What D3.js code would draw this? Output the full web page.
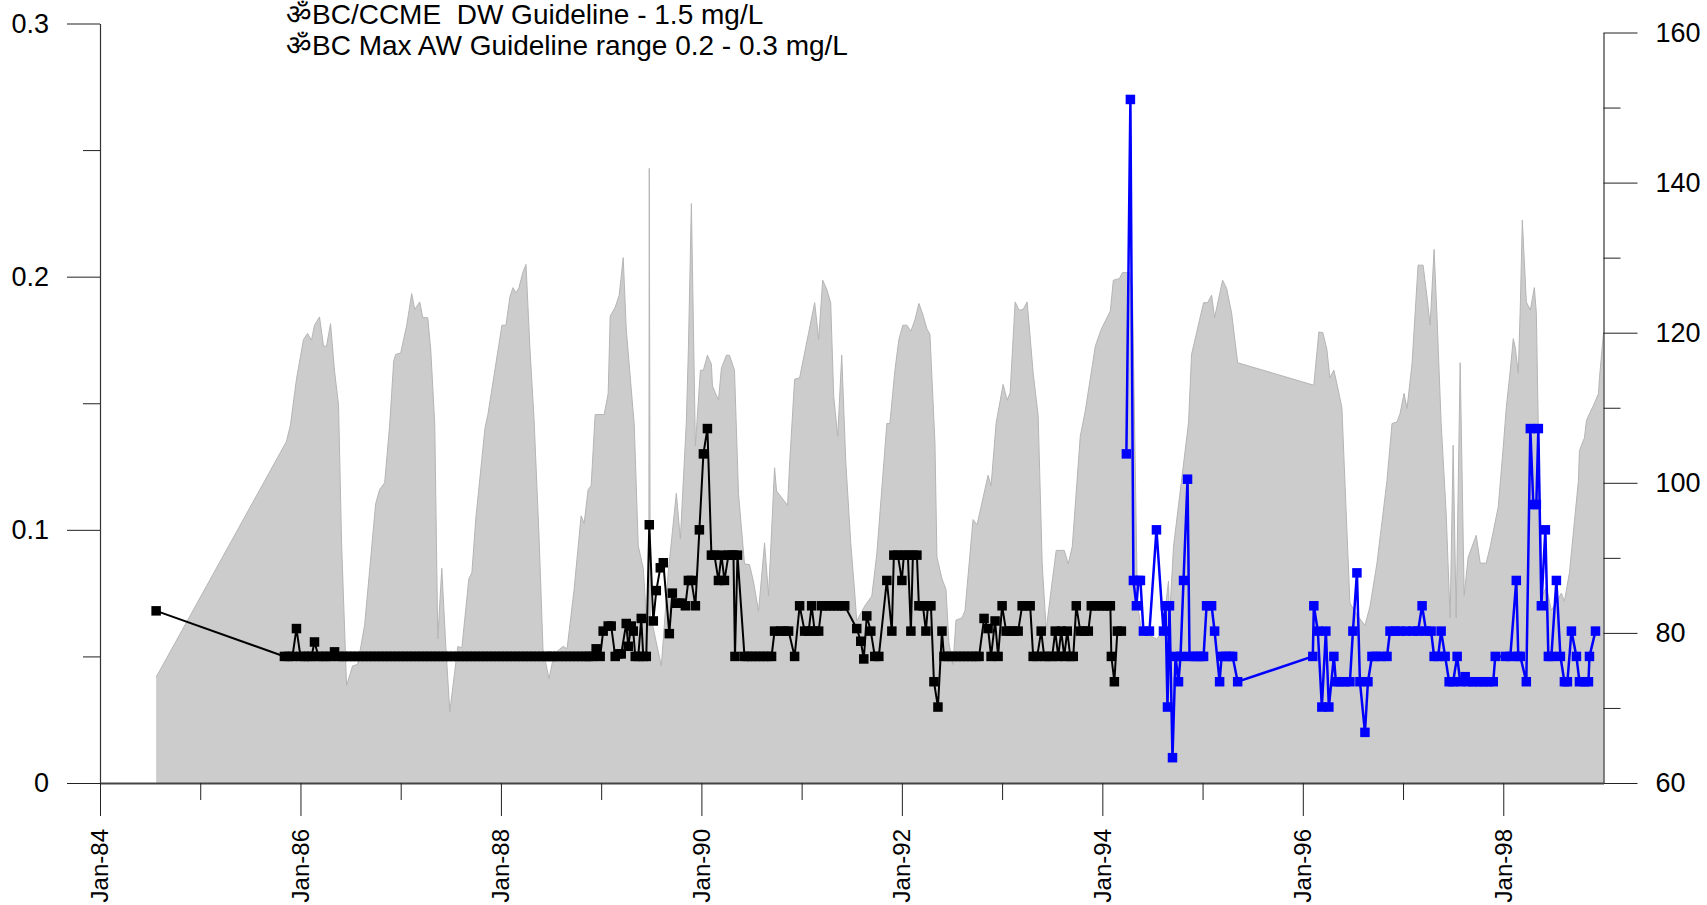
<!DOCTYPE html>
<html><head><meta charset="utf-8">
<script src="https://cdn.jsdelivr.net/npm/d3@7"></script>
<style>
html,body{margin:0;padding:0;background:#fff;}
svg{display:block;font-family:Arial,"Liberation Sans",sans-serif;}
</style></head><body>
<svg id="chart" width="1707" height="905"></svg>
<script>
// ---------- text ----------
const titleLines = ["ॐBC/CCME  DW Guideline - 1.5 mg/L", "ॐBC Max AW Guideline range 0.2 - 0.3 mg/L"];
// ---------- ticks ----------
const xMajorTicks = [1984, 1986, 1988, 1990, 1992, 1994, 1996, 1998];
const xMinorTicks = [1985, 1987, 1989, 1991, 1993, 1995, 1997];
const xTickLabels = ["Jan-84", "Jan-86", "Jan-88", "Jan-90", "Jan-92", "Jan-94", "Jan-96", "Jan-98"];
const leftTicks = [0, 0.1, 0.2, 0.3];
const leftMinorTicks = [0.05, 0.15, 0.25];
const rightTicks = [60, 80, 100, 120, 140, 160];
const rightMinorTicks = [70, 90, 110, 130, 150];

// ---------- data: [decimal year, value] ----------
// grey area (right axis)
const flowSeries = [
[1984.56,74.1],[1985.86,105.5],[1985.90,107.7],[1985.96,113.8],[1986.03,119.1],[1986.07,119.9],[1986.11,119.0],[1986.14,121.0],[1986.19,122.1],[1986.23,118.2],[1986.26,118.2],[1986.30,121.2],[1986.34,114.9],[1986.38,110.3],[1986.41,92.0],[1986.46,73.0],[1986.52,75.6],[1986.57,75.8],[1986.64,81.0],[1986.75,97.2],[1986.79,99.1],[1986.84,100.0],[1986.89,107.7],[1986.93,116.2],[1986.95,117.1],[1987.00,117.3],[1987.06,121.0],[1987.11,125.2],[1987.14,123.1],[1987.19,124.1],[1987.22,122.0],[1987.27,122.0],[1987.30,117.7],[1987.34,107.7],[1987.37,79.2],[1987.41,88.6],[1987.45,78.2],[1987.49,69.5],[1987.57,78.2],[1987.61,78.0],[1987.68,87.2],[1987.71,88.0],[1987.75,95.3],[1987.84,107.2],[1987.87,109.1],[1988.01,121.0],[1988.05,121.0],[1988.09,124.8],[1988.12,126.0],[1988.15,125.3],[1988.18,126.0],[1988.22,128.1],[1988.25,129.1],[1988.29,117.7],[1988.33,108.6],[1988.38,92.9],[1988.42,77.7],[1988.48,73.9],[1988.53,77.2],[1988.62,78.2],[1988.66,77.9],[1988.73,85.8],[1988.80,95.6],[1988.83,94.6],[1988.87,99.1],[1988.90,99.6],[1988.94,109.1],[1989.03,109.1],[1989.07,111.9],[1989.09,122.2],[1989.14,123.4],[1989.18,125.0],[1989.22,130.0],[1989.25,120.5],[1989.33,107.7],[1989.37,91.6],[1989.42,88.6],[1989.46,80.1],[1989.475,80.5],[1989.48,141.9],[1989.49,82.5],[1989.53,80.0],[1989.60,75.6],[1989.67,88.2],[1989.75,98.6],[1989.79,92.5],[1989.85,108.2],[1989.87,117.7],[1989.90,137.2],[1989.94,104.9],[1989.99,115.0],[1990.02,115.0],[1990.06,117.0],[1990.10,115.8],[1990.11,112.9],[1990.17,111.0],[1990.20,115.3],[1990.25,117.0],[1990.28,117.0],[1990.33,115.0],[1990.37,98.6],[1990.43,89.2],[1990.48,89.1],[1990.52,86.8],[1990.57,82.9],[1990.63,92.0],[1990.67,85.0],[1990.73,102.0],[1990.75,98.9],[1990.86,97.0],[1990.88,102.5],[1990.93,113.8],[1990.98,114.0],[1991.07,120.0],[1991.13,124.0],[1991.17,119.1],[1991.21,127.0],[1991.25,125.8],[1991.29,124.0],[1991.32,111.5],[1991.36,106.2],[1991.40,117.0],[1991.44,102.9],[1991.49,92.0],[1991.53,85.3],[1991.55,81.6],[1991.63,83.6],[1991.70,84.9],[1991.75,90.5],[1991.85,107.9],[1991.88,107.9],[1991.93,114.9],[1991.97,119.1],[1992.01,121.0],[1992.05,121.0],[1992.09,120.2],[1992.13,121.7],[1992.17,123.9],[1992.21,122.4],[1992.25,120.5],[1992.28,119.8],[1992.33,105.3],[1992.35,90.1],[1992.40,87.2],[1992.44,85.8],[1992.47,78.6],[1992.51,75.8],[1992.54,81.7],[1992.60,82.0],[1992.63,83.0],[1992.71,95.1],[1992.75,94.4],[1992.86,101.0],[1992.89,99.6],[1992.94,107.9],[1993.01,113.1],[1993.05,111.0],[1993.08,112.0],[1993.13,124.1],[1993.17,123.0],[1993.21,123.1],[1993.25,124.1],[1993.31,114.6],[1993.36,108.9],[1993.40,89.2],[1993.44,80.4],[1993.49,85.8],[1993.54,91.0],[1993.62,91.0],[1993.66,89.2],[1993.70,91.5],[1993.78,106.2],[1993.83,109.6],[1993.93,118.2],[1993.99,120.5],[1994.08,122.9],[1994.11,127.0],[1994.17,127.2],[1994.20,128.0],[1994.27,128.0],[1994.30,126.0],[1994.35,84.0],[1994.39,80.2],[1994.54,79.2],[1994.60,80.0],[1994.66,86.9],[1994.67,81.7],[1994.71,91.5],[1994.81,102.5],[1994.86,108.0],[1994.89,117.1],[1995.01,124.0],[1995.05,124.0],[1995.09,125.0],[1995.12,122.0],[1995.20,127.0],[1995.24,125.9],[1995.29,122.6],[1995.35,116.0],[1996.11,113.0],[1996.16,120.1],[1996.20,120.0],[1996.24,117.8],[1996.27,114.0],[1996.31,115.0],[1996.35,112.6],[1996.39,110.0],[1996.44,93.7],[1996.47,84.0],[1996.53,82.6],[1996.62,81.0],[1996.67,83.5],[1996.74,89.3],[1996.84,100.3],[1996.89,107.9],[1996.94,108.1],[1996.97,109.2],[1997.01,111.9],[1997.04,109.9],[1997.09,115.9],[1997.15,129.0],[1997.20,129.0],[1997.24,124.7],[1997.27,121.0],[1997.31,131.1],[1997.34,121.8],[1997.38,108.0],[1997.43,96.0],[1997.47,82.0],[1997.50,105.0],[1997.53,82.0],[1997.57,116.0],[1997.61,85.0],[1997.65,90.1],[1997.73,93.0],[1997.77,89.3],[1997.83,89.3],[1997.87,91.5],[1997.95,96.8],[1998.00,104.8],[1998.03,110.0],[1998.07,115.0],[1998.10,119.2],[1998.12,118.0],[1998.15,114.6],[1998.17,123.5],[1998.19,135.0],[1998.23,124.1],[1998.27,123.0],[1998.31,126.0],[1998.33,122.6],[1998.35,107.0],[1998.39,85.0],[1998.43,86.1],[1998.48,83.0],[1998.58,85.3],[1998.61,84.2],[1998.66,88.0],[1998.75,100.3],[1998.76,104.3],[1998.81,106.0],[1998.83,108.3],[1998.86,109.2],[1998.90,110.3],[1998.95,111.9],[1998.96,114.0],[1999.00,120.0]
];

// black concentration series (left axis)
const blackSeries = [
[1984.56,0.068],[1985.84,0.05],[1985.88,0.05],[1985.92,0.05],[1985.96,0.061],[1986.00,0.05],[1986.04,0.05],[1986.08,0.05],[1986.11,0.05],[1986.14,0.0557],[1986.18,0.05],[1986.22,0.05],[1986.26,0.05],[1986.30,0.05],[1986.34,0.0518],[1986.38,0.05],[1986.42,0.05],[1986.46,0.05],[1986.50,0.05],[1986.54,0.05],[1986.58,0.05],[1986.62,0.05],[1986.66,0.05],[1986.70,0.05],[1986.74,0.05],[1986.78,0.05],[1986.82,0.05],[1986.86,0.05],[1986.90,0.05],[1986.94,0.05],[1986.98,0.05],[1987.02,0.05],[1987.06,0.05],[1987.10,0.05],[1987.14,0.05],[1987.18,0.05],[1987.22,0.05],[1987.26,0.05],[1987.30,0.05],[1987.34,0.05],[1987.38,0.05],[1987.42,0.05],[1987.46,0.05],[1987.50,0.05],[1987.54,0.05],[1987.58,0.05],[1987.62,0.05],[1987.66,0.05],[1987.70,0.05],[1987.74,0.05],[1987.78,0.05],[1987.82,0.05],[1987.86,0.05],[1987.90,0.05],[1987.94,0.05],[1987.98,0.05],[1988.02,0.05],[1988.06,0.05],[1988.10,0.05],[1988.14,0.05],[1988.18,0.05],[1988.22,0.05],[1988.26,0.05],[1988.30,0.05],[1988.34,0.05],[1988.38,0.05],[1988.42,0.05],[1988.46,0.05],[1988.50,0.05],[1988.52,0.05],[1988.57,0.05],[1988.61,0.05],[1988.65,0.05],[1988.69,0.05],[1988.73,0.05],[1988.77,0.05],[1988.81,0.05],[1988.85,0.05],[1988.88,0.05],[1988.91,0.05],[1988.95,0.053],[1988.99,0.05],[1989.02,0.06],[1989.07,0.062],[1989.10,0.062],[1989.14,0.05],[1989.17,0.051],[1989.20,0.051],[1989.25,0.063],[1989.27,0.054],[1989.30,0.062],[1989.32,0.06],[1989.34,0.05],[1989.37,0.05],[1989.40,0.065],[1989.42,0.05],[1989.45,0.05],[1989.48,0.102],[1989.52,0.064],[1989.55,0.076],[1989.59,0.085],[1989.62,0.087],[1989.68,0.059],[1989.71,0.075],[1989.75,0.071],[1989.78,0.071],[1989.80,0.071],[1989.84,0.07],[1989.87,0.08],[1989.90,0.08],[1989.94,0.07],[1989.98,0.10],[1990.02,0.13],[1990.06,0.14],[1990.10,0.09],[1990.13,0.09],[1990.17,0.08],[1990.20,0.09],[1990.23,0.08],[1990.27,0.09],[1990.30,0.09],[1990.32,0.09],[1990.335,0.05],[1990.36,0.09],[1990.43,0.05],[1990.46,0.05],[1990.50,0.05],[1990.54,0.05],[1990.58,0.05],[1990.62,0.05],[1990.66,0.05],[1990.70,0.05],[1990.73,0.06],[1990.79,0.06],[1990.83,0.06],[1990.87,0.06],[1990.93,0.05],[1990.98,0.07],[1991.03,0.06],[1991.07,0.06],[1991.10,0.07],[1991.13,0.06],[1991.17,0.06],[1991.20,0.07],[1991.24,0.07],[1991.28,0.07],[1991.32,0.07],[1991.36,0.07],[1991.40,0.07],[1991.43,0.07],[1991.55,0.061],[1991.59,0.056],[1991.62,0.049],[1991.65,0.066],[1991.69,0.06],[1991.73,0.05],[1991.77,0.05],[1991.85,0.08],[1991.90,0.06],[1991.92,0.09],[1991.96,0.09],[1992.00,0.08],[1992.02,0.09],[1992.06,0.09],[1992.09,0.06],[1992.11,0.09],[1992.15,0.09],[1992.17,0.07],[1992.21,0.07],[1992.24,0.06],[1992.26,0.07],[1992.29,0.07],[1992.32,0.04],[1992.36,0.03],[1992.40,0.06],[1992.42,0.05],[1992.46,0.05],[1992.50,0.05],[1992.54,0.05],[1992.58,0.05],[1992.62,0.05],[1992.66,0.05],[1992.70,0.05],[1992.74,0.05],[1992.77,0.05],[1992.82,0.065],[1992.86,0.061],[1992.89,0.05],[1992.93,0.064],[1992.96,0.05],[1993.00,0.07],[1993.04,0.06],[1993.08,0.06],[1993.12,0.06],[1993.16,0.06],[1993.20,0.07],[1993.24,0.07],[1993.28,0.07],[1993.31,0.05],[1993.35,0.05],[1993.39,0.06],[1993.42,0.05],[1993.46,0.05],[1993.50,0.05],[1993.53,0.06],[1993.56,0.05],[1993.59,0.06],[1993.62,0.05],[1993.65,0.06],[1993.68,0.05],[1993.71,0.05],[1993.74,0.07],[1993.78,0.06],[1993.82,0.06],[1993.86,0.06],[1993.89,0.07],[1993.93,0.07],[1993.97,0.07],[1994.01,0.07],[1994.05,0.07],[1994.08,0.07],[1994.09,0.05],[1994.12,0.04],[1994.15,0.06],[1994.19,0.06]
];

// blue concentration series (left axis)
const blueSeries = [
[1994.24,0.13],[1994.28,0.27],[1994.31,0.08],[1994.34,0.07],[1994.36,0.08],[1994.38,0.08],[1994.41,0.06],[1994.47,0.06],[1994.54,0.10],[1994.61,0.06],[1994.63,0.07],[1994.65,0.03],[1994.67,0.07],[1994.70,0.01],[1994.73,0.05],[1994.76,0.04],[1994.78,0.05],[1994.81,0.08],[1994.85,0.12],[1994.87,0.05],[1994.91,0.05],[1994.95,0.05],[1994.98,0.05],[1995.01,0.05],[1995.04,0.07],[1995.09,0.07],[1995.12,0.06],[1995.17,0.04],[1995.19,0.05],[1995.23,0.05],[1995.27,0.05],[1995.30,0.05],[1995.35,0.04],[1996.10,0.05],[1996.11,0.07],[1996.15,0.06],[1996.19,0.03],[1996.23,0.06],[1996.26,0.03],[1996.31,0.05],[1996.33,0.04],[1996.37,0.04],[1996.42,0.04],[1996.47,0.04],[1996.50,0.06],[1996.54,0.083],[1996.57,0.04],[1996.62,0.02],[1996.65,0.04],[1996.69,0.05],[1996.73,0.05],[1996.78,0.05],[1996.84,0.05],[1996.87,0.06],[1996.92,0.06],[1996.97,0.06],[1997.03,0.06],[1997.10,0.06],[1997.15,0.06],[1997.19,0.07],[1997.23,0.06],[1997.28,0.06],[1997.31,0.05],[1997.35,0.05],[1997.38,0.06],[1997.42,0.05],[1997.46,0.04],[1997.50,0.04],[1997.54,0.05],[1997.57,0.04],[1997.62,0.042],[1997.65,0.04],[1997.70,0.04],[1997.75,0.04],[1997.80,0.04],[1997.85,0.04],[1997.90,0.04],[1997.92,0.05],[1998.02,0.05],[1998.07,0.05],[1998.13,0.08],[1998.15,0.05],[1998.17,0.05],[1998.23,0.04],[1998.27,0.14],[1998.30,0.11],[1998.33,0.11],[1998.35,0.14],[1998.38,0.07],[1998.42,0.10],[1998.45,0.05],[1998.48,0.05],[1998.53,0.08],[1998.57,0.05],[1998.61,0.04],[1998.64,0.04],[1998.68,0.06],[1998.73,0.05],[1998.76,0.04],[1998.81,0.04],[1998.85,0.04],[1998.86,0.05],[1998.92,0.06]
];

// ---------- drawing ----------
const svg = d3.select("#chart");
const FONT = 'Arial, "Liberation Sans", sans-serif';
const x = d3.scaleLinear().domain([1984, 1999]).range([100, 1603.5]);
const yL = d3.scaleLinear().domain([0, 0.3]).range([783, 23.5]);
const yR = d3.scaleLinear().domain([60, 160]).range([783, 32.5]);

// grey area
const area = d3.area().x(d => x(d[0])).y0(yR(60)).y1(d => yR(d[1]));
svg.append("path").datum(flowSeries).attr("d", area).attr("fill", "#cccccc").attr("stroke", "none");
svg.append("path").datum(flowSeries)
  .attr("d", d3.line().x(d => x(d[0])).y(d => yR(d[1])))
  .attr("fill", "none").attr("stroke", "#b5b5b5").attr("stroke-width", 1);

function styleAxis(g) {
  g.attr("font-size", 27).attr("font-family", FONT);
  g.selectAll("path.domain").attr("stroke", "#333").attr("stroke-width", 1.2);
  g.selectAll(".tick line").attr("stroke", "#222").attr("stroke-width", 1);
  g.selectAll(".tick text").attr("fill", "#000");
}

// left axis
svg.append("g").attr("transform", "translate(100,0)")
  .call(d3.axisLeft(yL).tickValues(leftTicks).tickSize(33).tickSizeOuter(0).tickPadding(18)
    .tickFormat(d => d === 0 ? "0" : d3.format(".1f")(d)))
  .call(styleAxis);
svg.append("g").attr("transform", "translate(100,0)")
  .call(d3.axisLeft(yL).tickValues(leftMinorTicks).tickSize(17).tickSizeOuter(0).tickFormat(""))
  .call(styleAxis).call(g => g.select(".domain").remove());

// right axis
svg.append("g").attr("transform", "translate(1603.5,0)")
  .call(d3.axisRight(yR).tickValues(rightTicks).tickSize(34).tickSizeOuter(0).tickPadding(18))
  .call(styleAxis);
svg.append("g").attr("transform", "translate(1603.5,0)")
  .call(d3.axisRight(yR).tickValues(rightMinorTicks).tickSize(17).tickSizeOuter(0).tickFormat(""))
  .call(styleAxis).call(g => g.select(".domain").remove());

// bottom axis
svg.append("g").attr("transform", "translate(0,783)")
  .call(d3.axisBottom(x).tickValues(xMajorTicks).tickSize(33).tickSizeOuter(0).tickFormat(""))
  .call(styleAxis)
  .call(g => g.select(".domain").attr("stroke", "#444").attr("stroke-width", 2));
svg.append("g").attr("transform", "translate(0,783)")
  .call(d3.axisBottom(x).tickValues(xMinorTicks).tickSize(17).tickSizeOuter(0).tickFormat(""))
  .call(styleAxis).call(g => g.select(".domain").remove());

// rotated x labels
svg.append("g").selectAll("text").data(xMajorTicks).join("text")
  .attr("transform", d => `translate(${x(d)},829) rotate(-90)`)
  .attr("text-anchor", "end").attr("dy", "0.35em")
  .attr("font-size", 24).attr("font-family", FONT).attr("fill", "#000")
  .text((d, i) => xTickLabels[i]);

// series
function drawSeries(data, color, width) {
  svg.append("path").datum(data)
    .attr("d", d3.line().x(d => x(d[0])).y(d => yL(d[1])))
    .attr("fill", "none").attr("stroke", color).attr("stroke-width", width).attr("stroke-linejoin", "miter");
  svg.append("g").selectAll("rect").data(data).join("rect")
    .attr("x", d => x(d[0]) - 4.75).attr("y", d => yL(d[1]) - 4.75)
    .attr("width", 9.5).attr("height", 9.5).attr("fill", color);
}
drawSeries(blackSeries, "#000000", 2);
drawSeries(blueSeries, "#0000ff", 2.5);

// title lines
svg.append("g").selectAll("text").data(titleLines).join("text")
  .attr("x", 286).attr("y", (d, i) => 24 + i * 31)
  .attr("font-size", 28).attr("font-family", FONT).attr("fill", "#000")
  .style("white-space", "pre")
  .text(d => d);
</script>
</body></html>
